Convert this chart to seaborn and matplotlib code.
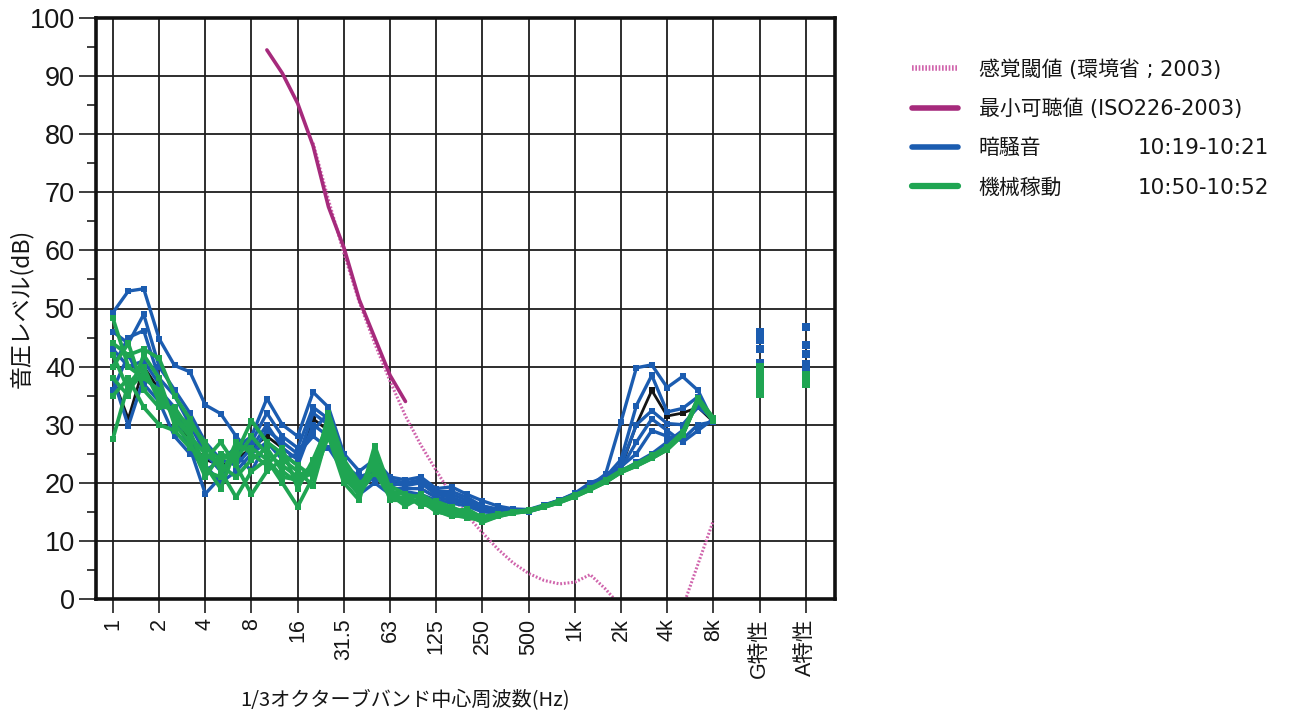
import numpy as np
import pandas as pd
import matplotlib
matplotlib.use("Agg")
import matplotlib.pyplot as plt
import seaborn as sns
from matplotlib.lines import Line2D
from matplotlib.ticker import MultipleLocator

# ---------------- data ----------------
bands = ['1', '1.25', '1.6', '2', '2.5', '3.15', '4', '5', '6.3', '8',
         '10', '12.5', '16', '20', '25', '31.5', '40', '50', '63', '80',
         '100', '125', '160', '200', '250', '315', '400', '500', '630', '800',
         '1k', '1.25k', '1.6k', '2k', '2.5k', '3.15k', '4k', '5k', '6.3k', '8k']
tick_labels = ['1', '2', '4', '8', '16', '31.5', '63', '125', '250', '500',
               '1k', '2k', '4k', '8k', 'G特性', 'A特性']

# 最小可聴値 (solid), bands 10 Hz .. 80 Hz
iso_solid_bands = ['10', '12.5', '16', '20', '25', '31.5', '40', '50', '63', '80']
iso_solid = [94.5, 90.5, 85.3, 78.0, 67.5, 60.5, 51.5, 45.0, 38.5, 34.0]
# 感覚閾値 (dotted), bands 20 Hz .. 8 kHz
thr_dot_bands = bands[13:]
thr_dot = [78.5, 68.7, 59.5, 51.1, 44.0, 37.5, 31.5, 26.5, 22.1, 17.9,
           14.4, 11.4, 8.6, 6.2, 4.4, 3.2, 2.6, 2.9, 4.2, 1.7,
           -1.3, -4.2, -6.0, -5.4, -1.5, 6.0, 13.5]

# 暗騒音 (background) 10:19-10:21
bg1 = [49.3, 53.0, 53.4, 44.8, 40.2, 39.1, 33.4, 31.9, 28.0, 25.0,
       27.0, 24.0, 25.0, 28.0, 26.0, 22.0, 20.0, 21.0, 19.5, 20.0,
       20.0, 18.0, 17.5, 16.5, 15.5, 15.0, 15.0, 15.2, 16.0, 17.0,
       18.0, 19.5, 21.5, 30.5, 39.8, 40.3, 36.4, 38.3, 35.9, 30.5]
bg2 = [46.0, 44.0, 49.0, 40.0, 36.0, 32.0, 27.0, 24.0, 26.0, 28.0,
       34.5, 30.0, 28.0, 35.6, 33.0, 25.0, 22.0, 24.0, 21.0, 20.5,
       21.0, 19.0, 19.3, 18.0, 16.9, 16.0, 15.5, 15.4, 16.2, 17.0,
       18.2, 20.0, 21.0, 24.0, 33.3, 38.5, 32.2, 32.8, 34.8, 30.5]
bg3 = [40.0, 45.0, 46.2, 38.0, 35.0, 30.0, 25.0, 22.0, 25.0, 27.0,
       32.0, 28.0, 26.0, 33.0, 31.0, 22.0, 20.0, 23.0, 20.0, 19.5,
       20.0, 18.0, 18.0, 17.0, 16.0, 15.3, 15.2, 15.2, 16.0, 16.9,
       18.0, 19.5, 21.0, 23.0, 30.0, 32.4, 30.2, 30.0, 33.0, 31.0]
bg4 = [38.0, 29.8, 38.0, 36.0, 33.0, 28.0, 22.0, 24.0, 23.0, 26.0,
       30.0, 26.0, 24.0, 32.0, 30.0, 24.0, 19.0, 21.0, 19.0, 19.0,
       19.0, 17.5, 17.0, 16.5, 15.5, 15.0, 15.0, 15.1, 16.0, 16.8,
       17.9, 19.3, 20.8, 22.5, 27.0, 31.0, 29.0, 27.0, 29.0, 31.0]
bg5 = [43.0, 40.0, 41.0, 37.0, 31.0, 26.0, 18.1, 21.0, 25.0, 22.0,
       27.0, 25.0, 23.0, 30.0, 28.0, 21.0, 18.0, 20.0, 18.0, 18.5,
       18.0, 17.0, 16.5, 16.0, 15.0, 14.8, 15.0, 15.0, 15.8, 16.7,
       17.7, 19.0, 20.5, 22.0, 23.5, 25.0, 27.0, 29.0, 34.0, 30.5]
bg6 = [36.0, 42.0, 37.0, 34.0, 28.0, 25.0, 23.0, 20.0, 22.0, 25.0,
       29.0, 27.0, 25.0, 29.0, 32.0, 23.0, 21.0, 22.0, 20.5, 20.0,
       20.5, 18.5, 18.5, 17.5, 16.0, 15.5, 15.2, 15.3, 16.1, 17.0,
       18.1, 19.6, 21.2, 22.8, 25.0, 29.0, 28.0, 27.5, 30.0, 30.5]
bk1 = [38.0, 31.0, 40.0, 36.0, 32.0, 27.0, 24.0, 23.0, 24.0, 26.0,
       28.0, 26.0, 24.0, 31.0, 29.0, 22.0, 19.5, 21.5, 19.0, 19.0,
       19.0, 17.5, 17.0, 16.5, 15.5, 15.0, 15.0, 15.2, 16.0, 16.8,
       17.9, 19.3, 20.8, 22.5, 30.0, 35.9, 31.5, 32.0, 33.0, 30.5]

# 機械稼動 (machine running) 10:50-10:52
gr1 = [48.3, 40.0, 38.0, 36.0, 31.0, 28.0, 25.0, 23.0, 21.0, 24.0,
       26.0, 22.0, 20.0, 22.0, 30.5, 22.0, 19.0, 24.0, 18.0, 17.0,
       18.0, 16.5, 15.0, 15.5, 14.0, 14.5, 15.0, 15.3, 16.0, 16.8,
       17.8, 19.0, 20.3, 22.0, 23.2, 24.5, 26.0, 28.5, 34.5, 31.0]
gr2 = [27.6, 37.0, 40.0, 34.0, 32.0, 30.0, 27.0, 22.0, 17.5, 22.0,
       24.0, 20.0, 15.9, 21.0, 28.0, 20.0, 17.0, 26.4, 19.0, 16.5,
       17.0, 15.0, 14.5, 14.0, 13.5, 14.3, 14.9, 15.2, 15.9, 16.7,
       17.7, 18.9, 20.2, 21.9, 23.0, 24.3, 25.8, 28.3, 34.3, 30.8]
gr3 = [44.0, 42.0, 43.0, 41.4, 35.0, 31.0, 26.0, 24.0, 25.0, 30.7,
       27.0, 25.0, 23.0, 21.0, 32.0, 24.0, 20.0, 21.5, 19.5, 18.0,
       17.5, 16.0, 15.5, 15.0, 14.2, 14.6, 15.0, 15.3, 16.0, 16.9,
       17.9, 19.1, 20.5, 22.1, 23.3, 24.7, 26.2, 28.7, 34.6, 31.2]
gr4 = [35.0, 38.0, 33.0, 30.0, 29.0, 26.0, 24.0, 27.0, 23.0, 18.0,
       22.0, 24.0, 22.0, 19.5, 29.0, 21.0, 18.0, 22.0, 17.5, 17.5,
       16.5, 15.5, 15.0, 14.5, 13.2, 14.2, 14.8, 15.1, 15.8, 16.6,
       17.6, 18.8, 20.1, 21.8, 22.9, 24.2, 25.7, 28.2, 34.2, 30.6]
gr5 = [40.0, 44.0, 36.0, 33.0, 33.0, 29.0, 22.0, 21.0, 27.0, 25.0,
       23.0, 26.0, 19.0, 24.0, 30.0, 23.0, 19.5, 23.0, 18.5, 18.0,
       16.0, 16.8, 15.8, 14.8, 13.8, 14.4, 15.0, 15.2, 15.9, 16.8,
       17.8, 19.0, 20.4, 22.0, 23.1, 24.4, 25.9, 28.4, 34.4, 30.9]
gr6 = [38.0, 35.0, 42.0, 38.0, 30.0, 27.0, 21.0, 25.0, 24.0, 28.0,
       25.0, 23.0, 21.0, 23.0, 31.0, 22.5, 18.5, 24.5, 18.0, 16.0,
       17.5, 15.8, 14.8, 15.2, 13.6, 14.3, 14.9, 15.2, 15.9, 16.7,
       17.7, 18.9, 20.2, 21.9, 23.0, 24.4, 25.9, 28.4, 34.3, 30.8]
gr7 = [42.0, 36.0, 39.0, 35.0, 31.5, 28.5, 23.0, 19.0, 26.0, 26.0,
       24.0, 21.0, 20.5, 22.5, 29.5, 21.5, 18.0, 25.0, 17.0, 17.0,
       16.8, 15.2, 14.2, 14.5, 13.4, 14.2, 14.8, 15.1, 15.8, 16.6,
       17.6, 18.8, 20.1, 21.8, 22.9, 24.2, 25.7, 28.2, 34.2, 30.6]

# overall weighted levels (G特性, A特性)
bg_G = [46.0, 44.5, 43.0, 40.7, 40.5, 40.3]
bg_A = [46.9, 43.8, 42.2, 40.5, 39.5, 38.8]
bk_G = [40.0]
bk_A = [39.0]
gr_G = [40.0, 39.0, 38.0, 37.0, 36.2, 35.5, 35.3]
gr_A = [38.5, 38.2, 37.8, 37.5, 37.3, 37.1, 37.0]

legend_labels = ['感覚閾値 (環境省 ; 2003)', '最小可聴値 (ISO226-2003)', '暗騒音', '機械稼動']
legend_times = ['', '', '10:19-10:21', '10:50-10:52']

# ---------------- style ----------------
BLUE = '#1b5cb0'
GREEN = '#1fa552'
BLACK = '#141414'
MAG_SOLID = '#a62a7c'
MAG_DOT = '#d064ac'
TXT = '#161616'

sns.set_theme(style='white')
plt.rcParams['font.family'] = ['Noto Sans CJK JP', 'DejaVu Sans']
LATIN_CJK = ['DejaVu Sans', 'Noto Sans CJK JP']

W, H = 1293, 719
fig = plt.figure(figsize=(W / 100, H / 100), dpi=100)
ax = fig.add_axes([96 / W, 1 - 599 / H, (835 - 96) / W, (599 - 18) / H])

pos_of = {b: i for i, b in enumerate(bands)}
G_POS, A_POS = 42, 45


def long_frame(series_dict):
    rows = []
    for name, vals in series_dict.items():
        for b, v in zip(bands, vals):
            rows.append((name, pos_of[b], v))
    return pd.DataFrame(rows, columns=['series', 'pos', 'dB'])


def point_frame(g_vals, a_vals):
    rows = [(G_POS, v) for v in g_vals] + [(A_POS, v) for v in a_vals]
    return pd.DataFrame(rows, columns=['pos', 'dB'])


# threshold curves
df_dot = pd.DataFrame({'pos': [pos_of[b] for b in thr_dot_bands], 'dB': thr_dot})
df_iso = pd.DataFrame({'pos': [pos_of[b] for b in iso_solid_bands], 'dB': iso_solid})
sns.lineplot(data=df_dot, x='pos', y='dB', color=MAG_DOT, lw=2.2,
             linestyle=(0, (0.6, 0.6)), ax=ax, legend=False, zorder=2)
sns.lineplot(data=df_iso, x='pos', y='dB', color=MAG_SOLID, lw=2.6,
             ax=ax, legend=False, zorder=2.1)

# measured spectra
df_bk = long_frame({'bk1': bk1})
df_bg = long_frame({'bg1': bg1, 'bg2': bg2, 'bg3': bg3, 'bg4': bg4, 'bg5': bg5, 'bg6': bg6})
df_gr = long_frame({'gr1': gr1, 'gr2': gr2, 'gr3': gr3, 'gr4': gr4, 'gr5': gr5,
                    'gr6': gr6, 'gr7': gr7})
line_kw = dict(x='pos', y='dB', units='series', estimator=None, marker='s',
               markersize=4.2, markeredgewidth=0, ax=ax, legend=False, sort=False)
sns.lineplot(data=df_bk, color=BLACK, lw=2.0, zorder=3, **line_kw)
sns.lineplot(data=df_bg, color=BLUE, lw=2.4, zorder=4, **line_kw)
sns.lineplot(data=df_gr, color=GREEN, lw=2.7, zorder=5, **line_kw)

# G / A weighted totals
sns.scatterplot(data=point_frame(bk_G, bk_A), x='pos', y='dB', color=BLACK, marker='s',
                s=40, linewidth=0, ax=ax, legend=False, zorder=6)
sns.scatterplot(data=point_frame(bg_G, bg_A), x='pos', y='dB', color=BLUE, marker='s',
                s=40, linewidth=0, ax=ax, legend=False, zorder=6)
sns.scatterplot(data=point_frame(gr_G, gr_A), x='pos', y='dB', color=GREEN, marker='s',
                s=40, linewidth=0, ax=ax, legend=False, zorder=7)

# ---------------- axes ----------------
ax.set_xlim(-1.1, 46.9)
ax.set_ylim(0, 100)
ax.set_xticks(list(range(0, 40, 3)) + [G_POS, A_POS])
ax.set_xticklabels(tick_labels)
ax.set_yticks(range(0, 101, 10))
ax.yaxis.set_minor_locator(MultipleLocator(5))
ax.grid(True, which='major', color='#1e1e1e', lw=1.3)
ax.set_axisbelow(True)
for sp in ax.spines.values():
    sp.set_visible(True)
    sp.set_color('#111111')
    sp.set_linewidth(2.6)

ax.tick_params(axis='x', which='major', direction='out', length=10, width=1.2,
               color='#1e1e1e', pad=4, labelsize=15.5, labelrotation=90, bottom=True,
               labelcolor=TXT)
ax.tick_params(axis='y', which='major', direction='out', length=12, width=1.2,
               color='#1e1e1e', pad=3, labelsize=19.5, left=True, labelcolor=TXT)
ax.tick_params(axis='y', which='minor', direction='out', length=6.5, width=1.2,
               color='#1e1e1e', left=True)
for lbl in ax.get_yticklabels():
    lbl.set_fontfamily(['Liberation Sans', 'DejaVu Sans'])
for lbl in ax.get_xticklabels():
    lbl.set_fontfamily(['Liberation Sans', 'Noto Sans CJK JP'])

ax.set_xlabel('1/3オクターブバンド中心周波数(Hz)', fontsize=14.5, color=TXT)
ax.xaxis.set_label_coords((405 - 96) / (835 - 96), (599 - 690) / (599 - 18))
ax.set_ylabel('音圧レベル(dB)', fontsize=16.5, color=TXT)
ax.yaxis.set_label_coords((33 - 96) / (835 - 96), 0.5)

# ---------------- legend ----------------
handles = [
    Line2D([], [], color=MAG_DOT, lw=4, linestyle=(0, (0.3, 0.3))),
    Line2D([], [], color=MAG_SOLID, lw=4),
    Line2D([], [], color=BLUE, lw=4),
    Line2D([], [], color=GREEN, lw=4.5),
]
leg = fig.legend(handles, legend_labels, loc='upper left',
                 bbox_to_anchor=(912 / W, 1 - 59 / H), frameon=False, fontsize=15,
                 handlelength=2.2, handletextpad=1.0, labelspacing=0.92,
                 borderpad=0, borderaxespad=0)
for t in leg.get_texts():
    t.set_color(TXT)
    t.set_fontfamily(LATIN_CJK)

fig.canvas.draw()
for t, tm in zip(leg.get_texts(), legend_times):
    if not tm:
        continue
    bb = t.get_window_extent()
    yc = (bb.y0 + bb.y1) / 2
    fig.text(1138 / W, yc / H, tm, ha='left', va='center', fontsize=15.5,
             color=TXT, family=['DejaVu Sans', 'Noto Sans CJK JP'])

fig.savefig('out.png', dpi=100, facecolor='white')
